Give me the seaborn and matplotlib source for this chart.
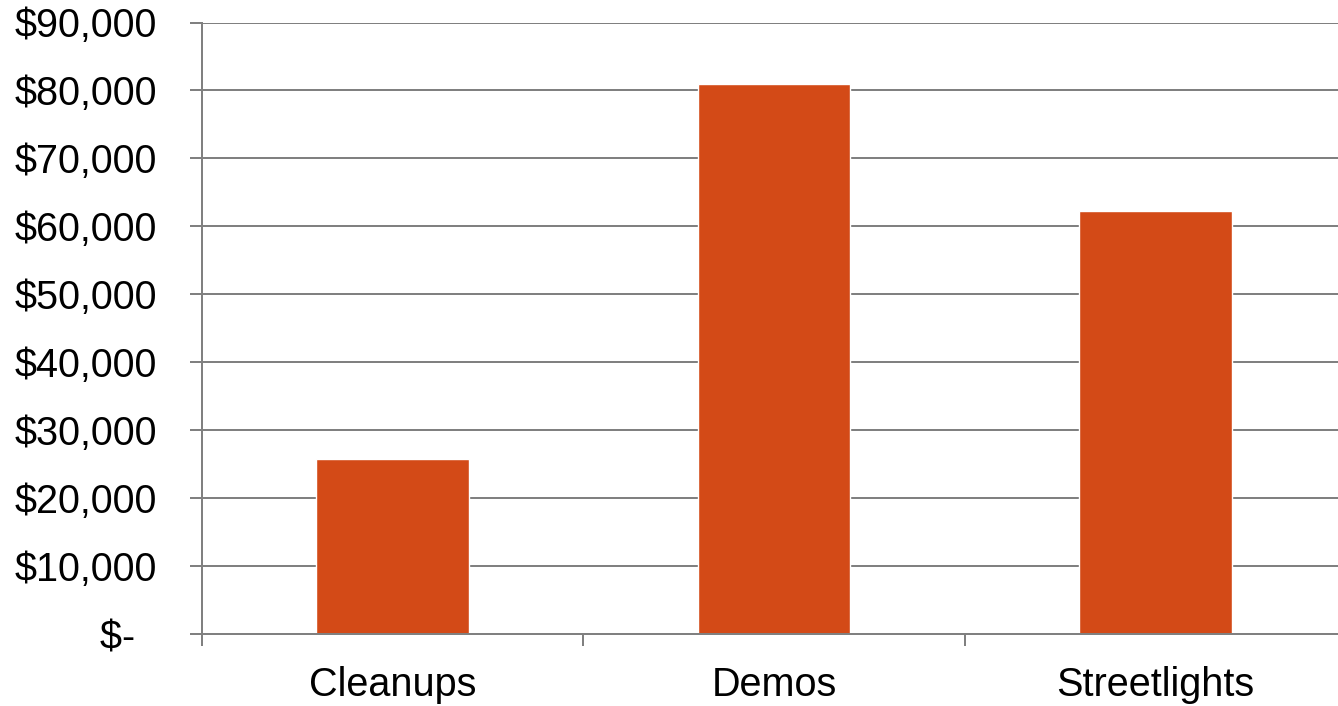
import matplotlib
matplotlib.use("Agg")
import matplotlib.pyplot as plt
import seaborn as sns
import pandas as pd
from matplotlib.ticker import FixedLocator

categories = ["Cleanups", "Demos", "Streetlights"]
values = [25800, 80900, 62300]
ytick_values = [0, 10000, 20000, 30000, 40000, 50000, 60000, 70000, 80000, 90000]
ytick_labels = ["$-  ", "$10,000", "$20,000", "$30,000", "$40,000", "$50,000",
                "$60,000", "$70,000", "$80,000", "$90,000"]

sns.set_theme(style="white")
plt.rcParams['font.family'] = ['Liberation Sans', 'DejaVu Sans']

df = pd.DataFrame({"category": categories, "value": values})

PX = 0.72  # points per pixel at dpi 100

fig = plt.figure(figsize=(13.38, 7.06), dpi=100)
ax = fig.add_axes([202/1338, 1 - 634/706, (1346 - 202)/1338, (634 - 22.5)/706])

sns.barplot(data=df, x="category", y="value", color="#D34A17", width=0.40,
            saturation=1, ax=ax, zorder=3)

grid_color = "#808080"
lw = 2 * PX
ax.set_ylim(0, 90000)
ax.set_xlim(-0.5, 2.5)
ax.set_yticks(ytick_values)
ax.set_yticklabels(ytick_labels)
ax.yaxis.grid(True, color=grid_color, linewidth=lw, zorder=0)
ax.set_axisbelow(True)

ax.set_xlabel("")
ax.set_ylabel("")

for s in ["top", "right"]:
    ax.spines[s].set_visible(False)
for s in ["left", "bottom"]:
    ax.spines[s].set_color(grid_color)
    ax.spines[s].set_linewidth(lw)
    ax.spines[s].set_zorder(4)

ax.tick_params(axis="y", which="major", direction="out", length=12 * PX, width=lw,
               color=grid_color, labelsize=28.5, labelcolor="black", pad=33 * PX, left=True)
ax.tick_params(axis="x", which="major", length=0, labelsize=28.5,
               labelcolor="black", pad=32 * PX)
ax.xaxis.set_minor_locator(FixedLocator([-0.5, 0.5, 1.5, 2.5]))
ax.tick_params(axis="x", which="minor", direction="out", length=12 * PX, width=lw,
               color=grid_color, bottom=True)

fig.savefig("out.png", dpi=100, facecolor="white")
